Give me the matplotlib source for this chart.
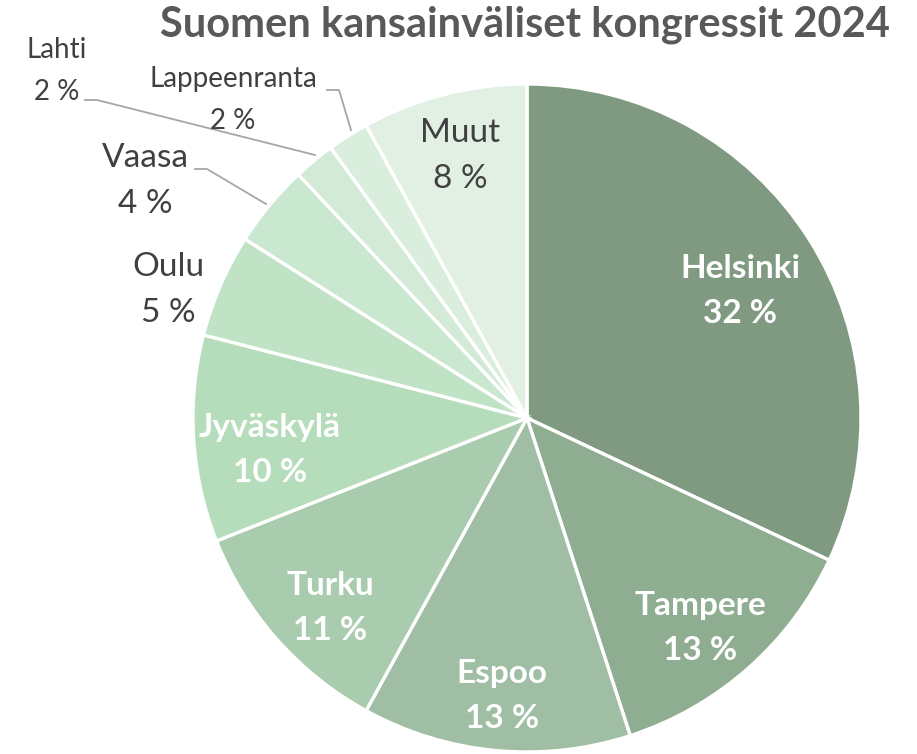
import matplotlib.pyplot as plt

# data (clockwise from 12 o'clock)
cities = ['Helsinki', 'Tampere', 'Espoo', 'Turku', 'Jyväskylä', 'Oulu', 'Vaasa',
          'Lahti', 'Lappeenranta', 'Muut']
shares = [32, 13, 13, 11, 10, 5, 4, 2, 2, 8]
colors = ['#7F9A81', '#8FAE91', '#A0BEA3', '#A9CCAE', '#B5DCBB', '#C0E3C6',
          '#CAE7D0', '#D2EAD6', '#DAEEDD', '#E2F0E4']

W, H = 917, 754
plt.rcParams['font.family'] = ['Lato', 'DejaVu Sans']

fig = plt.figure(figsize=(W / 100, H / 100), dpi=100)
ax = fig.add_axes([0, 0, 1, 1])


def py(y):
    # pixel row -> data y
    return H - y


ax.pie(shares, colors=colors, startangle=90, counterclock=False,
       center=(527, py(418)), radius=334, frame=True,
       wedgeprops=dict(edgecolor='white', linewidth=2.4))
ax.set_xlim(0, W)
ax.set_ylim(0, H)
ax.set_aspect('equal')
ax.axis('off')

# label layout: (x, y, style)
label_pos = {
    'Helsinki': (740, 291, 'in'),
    'Tampere': (700, 628, 'in'),
    'Espoo': (502, 696, 'in'),
    'Turku': (330, 608, 'in'),
    'Jyväskylä': (270, 450, 'in'),
    'Oulu': (168, 290, 'out'),
    'Vaasa': (145, 181, 'out'),
    'Lahti': (57, 71, 'small'),
    'Lappeenranta': (233, 100, 'small'),
    'Muut': (460, 156, 'out'),
}

for city, val in zip(cities, shares):
    x, y, style = label_pos[city]
    txt = f'{city}\n{val} %'
    if style == 'in':
        ax.text(x, py(y), txt, ha='center', va='center', color='white',
                fontsize=24, fontweight='bold', linespacing=1.63)
    elif style == 'out':
        ax.text(x, py(y), txt, ha='center', va='center', color='#404040',
                fontsize=24, linespacing=1.63)
    else:
        ax.text(x, py(y), txt, ha='center', va='center', color='#404040',
                fontsize=20, linespacing=1.75)

# leader lines
leaders = [
    [(85, 100), (97, 100), (315, 155)],
    [(327, 90), (339, 90), (351, 130)],
    [(195, 169), (207, 169), (266, 204)],
]
for pts in leaders:
    ax.plot([p[0] for p in pts], [py(p[1]) for p in pts], color='#A6A6A6', lw=1.3)

ax.text(525, py(25), 'Suomen kansainväliset kongressit 2024', ha='center', va='center',
        fontsize=30, fontweight='bold', color='#595959')

fig.savefig('out.png', dpi=100)
